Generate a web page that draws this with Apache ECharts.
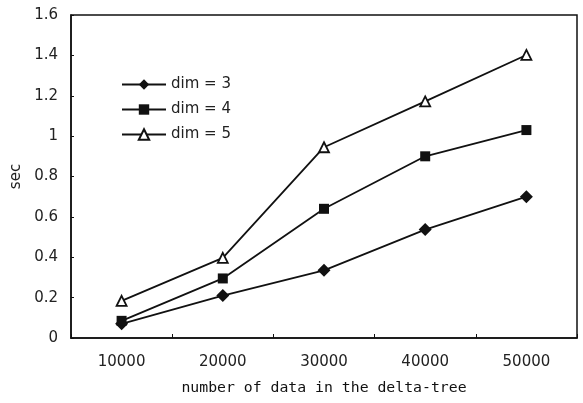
<!DOCTYPE html>
<html>
<head>
<meta charset="utf-8">
<script src="https://cdn.jsdelivr.net/npm/echarts@6/dist/echarts.min.js"></script>
<style>
html,body{margin:0;padding:0;background:#fff;}
#c{width:583px;height:403px;}
</style>
</head>
<body>
<div id="c"></div>
<script>
const categories = ['10000', '20000', '30000', '40000', '50000'];
const dim3 = [0.07, 0.21, 0.335, 0.537, 0.70];
const dim4 = [0.085, 0.295, 0.64, 0.90, 1.03];
const dim5 = [0.184, 0.397, 0.945, 1.172, 1.402];
const seriesNames = ['dim = 3', 'dim = 4', 'dim = 5'];
const xName = 'number of data in the delta-tree';
const yName = 'sec';

const FONT = 'DejaVu Sans';
const INK = '#111';
const TXT = '#222';

const chart = echarts.init(document.getElementById('c'), null, {renderer: 'canvas'});

function mk(name, data, symbol, size, fill) {
  return {
    name: name,
    type: 'line',
    data: data,
    symbol: symbol,
    symbolSize: size,
    showAllSymbol: true,
    lineStyle: {color: INK, width: 1.8},
    itemStyle: {color: fill, borderColor: INK, borderWidth: fill === '#fff' ? 1.8 : 0},
    emphasis: {disabled: true},
    animation: false,
    z: 3
  };
}

chart.setOption({
  animation: false,
  backgroundColor: '#fff',
  textStyle: {fontFamily: FONT, color: TXT},
  grid: {left: 71, right: 6, top: 15, bottom: 65, show: true, borderColor: INK, borderWidth: 1.5, containLabel: false},
  legend: {
    orient: 'vertical',
    left: 116,
    top: 72,
    itemWidth: 44,
    itemHeight: 13,
    itemGap: 10,
    textStyle: {fontFamily: FONT, fontSize: 15, color: TXT},
    data: seriesNames,
    selectedMode: false
  },
  xAxis: {
    type: 'category',
    data: categories,
    boundaryGap: true,
    name: xName,
    nameLocation: 'middle',
    nameGap: 43,
    nameTextStyle: {fontFamily: 'DejaVu Sans Mono', fontSize: 14.8, color: '#111'},
    axisLine: {lineStyle: {color: INK, width: 1.5}},
    axisTick: {show: true, inside: true, length: 4, lineStyle: {color: INK}},
    axisLabel: {fontFamily: FONT, fontSize: 15, color: TXT, margin: 17},
    splitLine: {show: false}
  },
  yAxis: {
    type: 'value',
    min: 0,
    max: 1.6,
    interval: 0.2,
    name: yName,
    nameLocation: 'middle',
    nameRotate: 90,
    nameGap: 46,
    nameTextStyle: {fontFamily: FONT, fontSize: 15, color: TXT},
    axisLine: {show: true, lineStyle: {color: INK, width: 1.5}},
    axisTick: {show: true, inside: true, length: 3, lineStyle: {color: INK}},
    axisLabel: {fontFamily: FONT, fontSize: 15, color: TXT, margin: 13},
    splitLine: {show: false}
  },
  series: [
    mk(seriesNames[0], dim3, 'diamond', 13, INK),
    mk(seriesNames[1], dim4, 'rect', 10, INK),
    mk(seriesNames[2], dim5, 'triangle', 10, '#fff')
  ]
});
</script>
</body>
</html>
